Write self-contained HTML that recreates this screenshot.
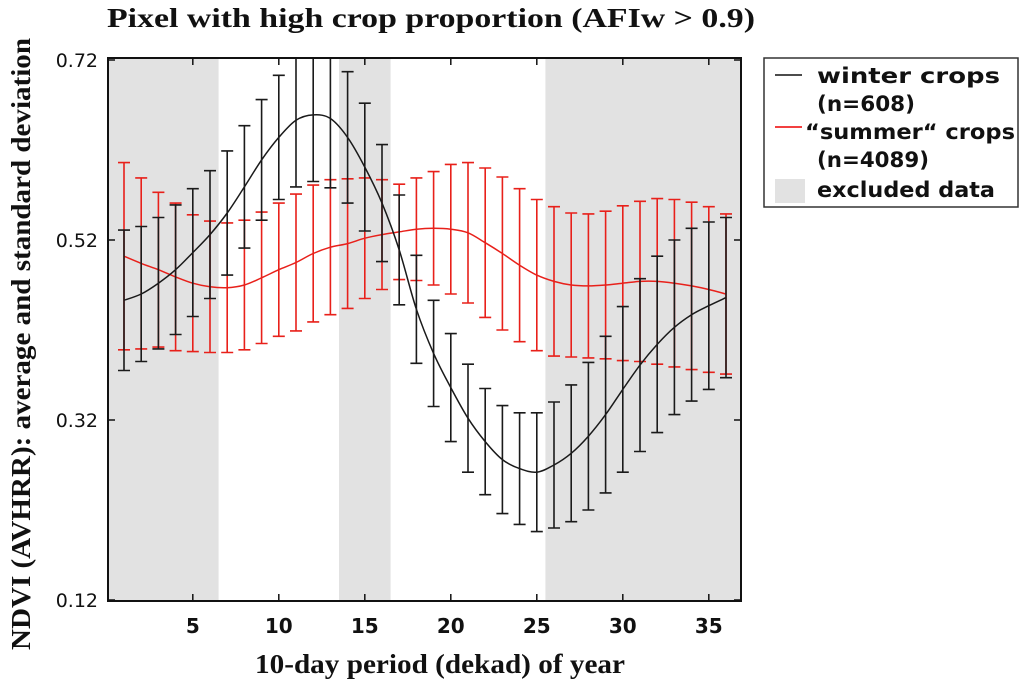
<!DOCTYPE html>
<html><head><meta charset="utf-8"><style>
body{margin:0;background:#fff;width:1024px;height:683px;overflow:hidden}
svg{display:block}
.t{font-family:"DejaVu Sans","Liberation Sans",sans-serif;font-weight:bold;font-size:21px;fill:#111}
.xt{font-family:"DejaVu Sans","Liberation Sans",sans-serif;font-weight:bold;font-size:20px;fill:#111}
.yt{font-family:"DejaVu Sans","Liberation Sans",sans-serif;font-size:19px;fill:#111}
.s{font-family:"Liberation Serif",serif;font-weight:bold;font-size:27px;fill:#111}
</style></head><body>
<svg id="c" width="1024" height="683">
<text class="s" x="107" y="27" textLength="648" lengthAdjust="spacingAndGlyphs">Pixel with high crop proportion (AFIw &gt; 0.9)</text>
<text class="s" x="255" y="673" textLength="370" lengthAdjust="spacingAndGlyphs">10-day period (dekad) of year</text>
<text class="s" transform="translate(30,650) rotate(-90)" x="0" y="0" textLength="612" lengthAdjust="spacingAndGlyphs">NDVI (AVHRR): average and standard deviation</text>
<g id="plot"></g>
<g>
<rect x="764" y="58" width="254" height="149" fill="#fff" stroke="#333" stroke-width="1.5"/>
<line x1="775" y1="75" x2="802" y2="75" stroke="#111" stroke-width="1.5"/>
<text class="t" x="817" y="83" textLength="183" lengthAdjust="spacingAndGlyphs">winter crops</text>
<text class="t" x="817" y="111" textLength="98" lengthAdjust="spacingAndGlyphs">(n=608)</text>
<line x1="775" y1="127" x2="802" y2="127" stroke="#e00" stroke-width="1.5"/>
<text class="t" x="805" y="139" textLength="210" lengthAdjust="spacingAndGlyphs">“summer“ crops</text>
<text class="t" x="817" y="167" textLength="112" lengthAdjust="spacingAndGlyphs">(n=4089)</text>
<rect x="775" y="179" width="30" height="24" fill="#e2e2e2"/>
<text class="t" x="817" y="197" textLength="178" lengthAdjust="spacingAndGlyphs">excluded data</text>
</g>
</svg>
<script>
const dekads=[1,2,3,4,5,6,7,8,9,10,11,12,13,14,15,16,17,18,19,20,21,22,23,24,25,26,27,28,29,30,31,32,33,34,35,36];
const winterMean=[.453,.46,.472,.487,.506,.526,.55,.579,.609,.634,.653,.659,.655,.634,.601,.561,.509,.443,.394,.356,.322,.296,.276,.266,.262,.27,.283,.302,.326,.354,.381,.404,.423,.437,.447,.456];
const winterSd=[.078,.075,.073,.072,.071,.071,.069,.068,.067,.069,.074,.074,.077,.073,.071,.065,.061,.06,.059,.06,.06,.059,.06,.062,.066,.07,.076,.082,.087,.092,.096,.098,.097,.096,.093,.089];
const summerMean=[.502,.494,.487,.479,.472,.468,.467,.47,.478,.487,.495,.505,.512,.516,.522,.526,.529,.532,.533,.532,.528,.517,.505,.492,.481,.474,.47,.469,.47,.472,.474,.474,.472,.469,.465,.46];
const summerSd=[.104,.095,.086,.082,.076,.073,.072,.072,.073,.074,.076,.076,.075,.072,.067,.061,.053,.057,.063,.072,.078,.083,.085,.085,.084,.083,.08,.08,.082,.086,.089,.092,.093,.093,.092,.089];
const excluded=[[-0.3,6.5],[13.5,16.5],[25.5,37.1]];
const xTicks=[5,10,15,20,25,30,35];
const yTicks=[0.12,0.32,0.52,0.72];
const L=108,R=741,T=58,B=601;
const X=d=>124+(d-1)*17.2;
const Y=v=>600-(v-0.12)*900;
const NS='http://www.w3.org/2000/svg';
const g=document.getElementById('plot');
function mk(t,a){const e=document.createElementNS(NS,t);for(const k in a)e.setAttribute(k,a[k]);g.appendChild(e);return e;}
const clip=document.createElementNS(NS,'clipPath');clip.setAttribute('id','cp');
const cr=document.createElementNS(NS,'rect');cr.setAttribute('x',L);cr.setAttribute('y',T);cr.setAttribute('width',R-L);cr.setAttribute('height',B-T);clip.appendChild(cr);g.appendChild(clip);
excluded.forEach(r=>{const x1=Math.max(L,X(r[0])),x2=Math.min(R,X(r[1]));
const e=mk('rect',{x:x1,y:T,width:x2-x1,height:B-T,fill:'#e2e2e2'});

});
function series(mean,sd,col,name){
 const gg=document.createElementNS(NS,'g');gg.setAttribute('clip-path','url(#cp)');g.appendChild(gg);
 
 
 dekads.forEach((d,i)=>{const x=X(d),y1=Y(mean[i]+sd[i]),y2=Y(mean[i]-sd[i]);
  const p=document.createElementNS(NS,'path');
  p.setAttribute('d',`M${x},${y1}V${y2}M${x-6},${y1}H${x+6}M${x-6},${y2}H${x+6}`);
  p.setAttribute('stroke',col);p.setAttribute('stroke-width','1.6');p.setAttribute('fill','none');
  
  
  gg.appendChild(p);});
 const pts=dekads.map((d,i)=>[X(d),Y(mean[i])]);
 let s=`M${pts[0][0]},${pts[0][1]}`;
 for(let i=0;i<pts.length-1;i++){const p0=pts[Math.max(0,i-1)],p1=pts[i],p2=pts[i+1],p3=pts[Math.min(pts.length-1,i+2)];
  s+=`C${p1[0]+(p2[0]-p0[0])/6},${p1[1]+(p2[1]-p0[1])/6} ${p2[0]-(p3[0]-p1[0])/6},${p2[1]-(p3[1]-p1[1])/6} ${p2[0]},${p2[1]}`;}
 const ln=document.createElementNS(NS,'path');ln.setAttribute('d',s);ln.setAttribute('stroke',col);ln.setAttribute('stroke-width','1.5');ln.setAttribute('fill','none');
 
 
 gg.appendChild(ln);}
series(summerMean,summerSd,'#e8201a','summer');
series(winterMean,winterSd,'#1a1a1a','winter');
const fr=mk('rect',{x:L,y:T,width:R-L,height:B-T,fill:'none',stroke:'#111','stroke-width':2});


xTicks.forEach(v=>{const x=X(v);
 mk('line',{x1:x,y1:B,x2:x,y2:B-7,stroke:'#111','stroke-width':1.5});
 mk('line',{x1:x,y1:T,x2:x,y2:T+7,stroke:'#111','stroke-width':1.5});
 const t=mk('text',{x:x,y:B+32,'text-anchor':'middle',class:'xt'});t.textContent=v;
 
 });
yTicks.forEach(v=>{const y=Y(v);
 mk('line',{x1:L,y1:y,x2:L+7,y2:y,stroke:'#111','stroke-width':1.5});
 mk('line',{x1:R,y1:y,x2:R-7,y2:y,stroke:'#111','stroke-width':1.5});
 const t=mk('text',{x:L-10,y:y+7,'text-anchor':'end',class:'yt'});t.textContent=v.toFixed(2);
 
 });
</script>
</body></html>
